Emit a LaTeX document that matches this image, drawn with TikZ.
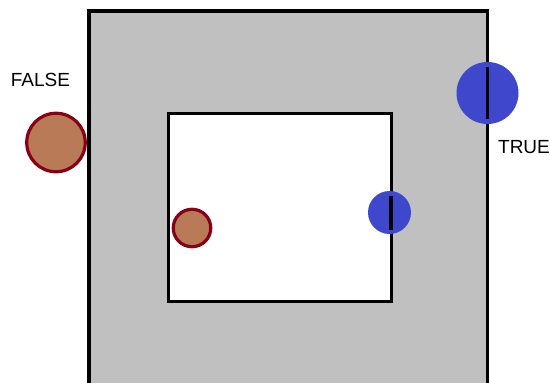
\documentclass[tikz,border=0pt]{standalone}
\usepackage{fontspec}
\setmainfont{Liberation Sans}
\usetikzlibrary{positioning}
\definecolor{grigio}{RGB}{192,192,192}
\definecolor{marrone}{RGB}{185,122,87}
\definecolor{rossoscuro}{RGB}{136,0,21}
\definecolor{blu}{RGB}{63,72,204}
\tikzset{
  esterno/.style = {draw, line width=3.5pt, fill=grigio},
  interno/.style = {draw, line width=3pt, fill=white},
  falso/.style   = {circle, draw=rossoscuro, line width=3.2pt, fill=marrone, inner sep=0},
  vero/.style    = {circle, fill=blu, inner sep=0},
  taglio/.style  = {line width=3.5pt},
  et/.style      = {font=\fontsize{19}{22}\selectfont}
}

\begin{document}
\begin{tikzpicture}[x=1pt, y=-1pt]
  \useasboundingbox (0,0) rectangle (550,383);

  % ---------- rettangoli ----------
  \draw[esterno] (89,11) rectangle (487.3,400);
  \draw[interno] (168.8,113) rectangle (391.2,301);

  % ---------- FALSE ----------
  \node[falso, minimum size=58.5pt] (fg) at (56,142.5) {};
  \node[falso, minimum size=37.5pt] (fp) at (192,228) {};
  \node[et] (lf) at (40.5,80) {FALSE};

  % ---------- TRUE ----------
  \node[vero, minimum size=62pt] (vg) at (487.5,93) {};
  \draw[taglio] ([yshift=-5pt]vg.north) -- ([yshift=5pt]vg.south);
  \node[vero, minimum size=43pt] (vp) at (389.5,212.5) {};
  \draw[taglio] ([xshift=1.5pt, yshift=-5pt]vp.north) -- ([xshift=1.5pt, yshift=4pt]vp.south);
  \node[et] (lt) at (524,147) {TRUE};

\end{tikzpicture}
\end{document}
